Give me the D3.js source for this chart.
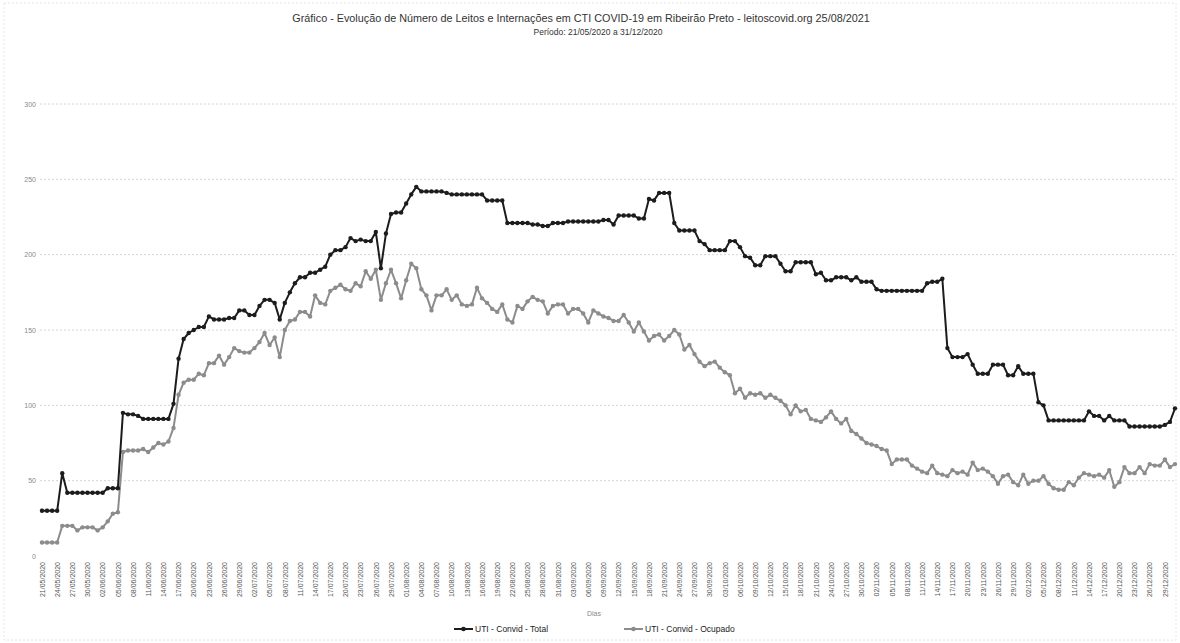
<!DOCTYPE html>
<html lang="pt">
<head>
<meta charset="UTF-8">
<title>Leitos CTI COVID-19 Ribeirão Preto</title>
<style>
  body { margin: 0; background: #fff; }
  text { font-family: "Liberation Sans", "DejaVu Sans", sans-serif; }
</style>
</head>
<body>
<script src="https://cdn.jsdelivr.net/npm/d3@7"></script>
<script>
// período: 21/05/2020 a 31/12/2020, um valor por dia
var startDay = new Date(Date.UTC(2020, 4, 21));
var endDay = new Date(Date.UTC(2021, 0, 1));
var days = d3.utcDay.range(startDay, endDay);

var yTicks = [0, 50, 100, 150, 200, 250, 300];

var seriesNames = ["UTI - Convid - Total", "UTI - Convid - Ocupado"];

var total = [
  30,30,30,30,55,42,42,42,42,42,
  42,42,42,45,45,45,95,94,94,93,
  91,91,91,91,91,91,101,131,144,148,
  150,152,152,159,157,157,157,158,158,163,
  163,160,160,166,170,170,168,157,168,175,
  181,185,185,188,188,190,192,200,203,203,
  205,211,209,210,209,209,215,191,214,227,
  228,228,234,240,245,242,242,242,242,242,
  241,240,240,240,240,240,240,240,236,236,
  236,236,221,221,221,221,221,220,220,219,
  219,221,221,221,222,222,222,222,222,222,
  222,223,223,220,226,226,226,226,224,224,
  237,236,241,241,241,221,216,216,216,216,
  209,207,203,203,203,203,209,209,205,199,
  198,193,193,199,199,199,194,189,189,195,
  195,195,195,187,188,183,183,185,185,185,
  183,185,182,182,182,177,176,176,176,176,
  176,176,176,176,176,181,182,182,184,138,
  132,132,132,134,127,121,121,121,127,127,
  127,120,120,126,121,121,121,102,100,90,
  90,90,90,90,90,90,90,96,93,93,
  90,93,90,90,90,86,86,86,86,86,
  86,86,87,89,98
];

var ocupado = [
  9,9,9,9,20,20,20,17,19,19,
  19,17,19,23,28,29,69,70,70,70,
  71,69,72,75,74,76,85,107,115,117,
  117,121,120,128,128,133,127,132,138,136,
  135,135,138,142,148,140,145,132,150,156,
  157,162,162,159,173,168,167,176,178,180,
  177,176,181,179,189,184,190,170,181,190,
  181,171,183,194,191,177,173,163,173,173,
  177,170,173,167,166,167,178,171,168,164,
  162,167,157,155,166,164,169,172,170,169,
  161,166,167,167,161,164,164,161,155,163,
  161,159,158,156,156,160,155,149,155,149,
  143,146,147,143,146,150,147,137,140,134,
  129,126,128,129,125,122,120,108,111,105,
  108,107,108,105,107,105,103,100,94,100,
  96,97,91,90,89,92,96,91,88,91,
  83,81,78,75,74,73,71,70,61,64,
  64,64,60,58,56,55,60,55,54,53,
  57,55,56,54,62,57,58,56,53,48,
  53,54,49,47,54,48,50,50,53,48,
  45,44,44,49,47,52,55,54,53,54,
  52,57,46,49,59,55,55,59,55,61,
  60,60,64,59,61
];

var width = 1180;
var height = 643;
var colors = ["#1c1c1c", "#8c8c8c"];
var fmt = d3.utcFormat("%d/%m/%Y");

var svg = d3.select("body")
    .append("svg")
    .attr("width", width)
    .attr("height", height);

svg.append("rect")
    .attr("x", 4).attr("y", 3)
    .attr("width", width - 8).attr("height", height - 6)
    .attr("fill", "#fff")
    .attr("stroke", "#e6e6e6")
    .attr("stroke-dasharray", "2,2");

var xScale = d3.scalePoint()
    .domain(days.map(function(d) { return fmt(d); }))
    .range([42, 1175]);

var yScale = d3.scaleLinear()
    .domain([0, 300])
    .range([556, 104]);

// grade
svg.selectAll(".grid")
    .data(yTicks.filter(function(d) { return d > 0; }))
    .enter()
    .append("line")
    .attr("class", "grid")
    .attr("x1", 40)
    .attr("x2", 1176)
    .attr("y1", function(d) { return yScale(d); })
    .attr("y2", function(d) { return yScale(d); })
    .attr("stroke", "#d4d4d4")
    .attr("stroke-width", 1)
    .attr("stroke-dasharray", "2,2");

// eixo y
var yAxis = d3.axisLeft(yScale)
    .tickValues(yTicks)
    .tickSize(0)
    .tickPadding(0);
var gy = svg.append("g")
    .attr("transform", "translate(36,0)")
    .call(yAxis);
gy.select(".domain").remove();
gy.selectAll("text")
    .attr("font-size", "7px")
    .attr("fill", "#8a8a8a")
    .style("font-family", "Liberation Sans, sans-serif");

// eixo x (um rótulo a cada 3 dias)
var xAxis = d3.axisBottom(xScale)
    .tickValues(xScale.domain().filter(function(d, i) { return i % 3 === 0; }))
    .tickSize(0)
    .tickPadding(0);
var gx = svg.append("g")
    .attr("transform", "translate(0,562)")
    .call(xAxis);
gx.select(".domain").remove();
gx.selectAll("text")
    .attr("font-size", "7px")
    .attr("fill", "#555")
    .attr("text-anchor", "end")
    .attr("dx", 0)
    .attr("dy", "0.32em")
    .attr("transform", "rotate(-90)")
    .attr("x", 0)
    .attr("y", 0)
    .style("font-family", "Liberation Sans, sans-serif");

// séries
var series = [total, ocupado];
var line = d3.line()
    .x(function(d, i) { return xScale(fmt(days[i])); })
    .y(function(d) { return yScale(d); });

series.slice().reverse().forEach(function(values, k) {
    var s = series.length - 1 - k;
    svg.append("path")
        .datum(values)
        .attr("fill", "none")
        .attr("stroke", colors[s])
        .attr("stroke-width", 2)
        .attr("stroke-linejoin", "round")
        .attr("d", line);
    svg.selectAll(".pt" + s)
        .data(values)
        .enter()
        .append("circle")
        .attr("class", "pt" + s)
        .attr("cx", function(d, i) { return xScale(fmt(days[i])); })
        .attr("cy", function(d) { return yScale(d); })
        .attr("r", 2.2)
        .attr("fill", colors[s]);
});

// títulos
svg.append("text")
    .attr("x", 581)
    .attr("y", 22)
    .attr("text-anchor", "middle")
    .attr("font-size", "10.8px")
    .attr("fill", "#333")
    .text("Gráfico - Evolução de Número de Leitos e Internações em CTI COVID-19 em Ribeirão Preto - leitoscovid.org 25/08/2021");
svg.append("text")
    .attr("x", 598)
    .attr("y", 35)
    .attr("text-anchor", "middle")
    .attr("font-size", "8.5px")
    .attr("fill", "#333")
    .text("Período: 21/05/2020 a 31/12/2020");

svg.append("text")
    .attr("x", 594)
    .attr("y", 616)
    .attr("text-anchor", "middle")
    .attr("font-size", "7px")
    .attr("fill", "#888")
    .text("Dias");

// legenda
var legX = [454, 624];
var leg = svg.selectAll(".leg")
    .data(seriesNames)
    .enter()
    .append("g")
    .attr("class", "leg")
    .attr("transform", function(d, i) { return "translate(" + legX[i] + ",629)"; });
leg.append("line")
    .attr("x1", 0).attr("x2", 19)
    .attr("y1", 0).attr("y2", 0)
    .attr("stroke", function(d, i) { return colors[i]; })
    .attr("stroke-width", 2);
leg.append("circle")
    .attr("cx", 9.5).attr("cy", 0)
    .attr("r", 2.3)
    .attr("fill", function(d, i) { return colors[i]; });
leg.append("text")
    .attr("x", 21)
    .attr("y", 3)
    .attr("font-size", "8.5px")
    .attr("fill", "#222")
    .text(function(d) { return d; });
</script>
</body>
</html>
